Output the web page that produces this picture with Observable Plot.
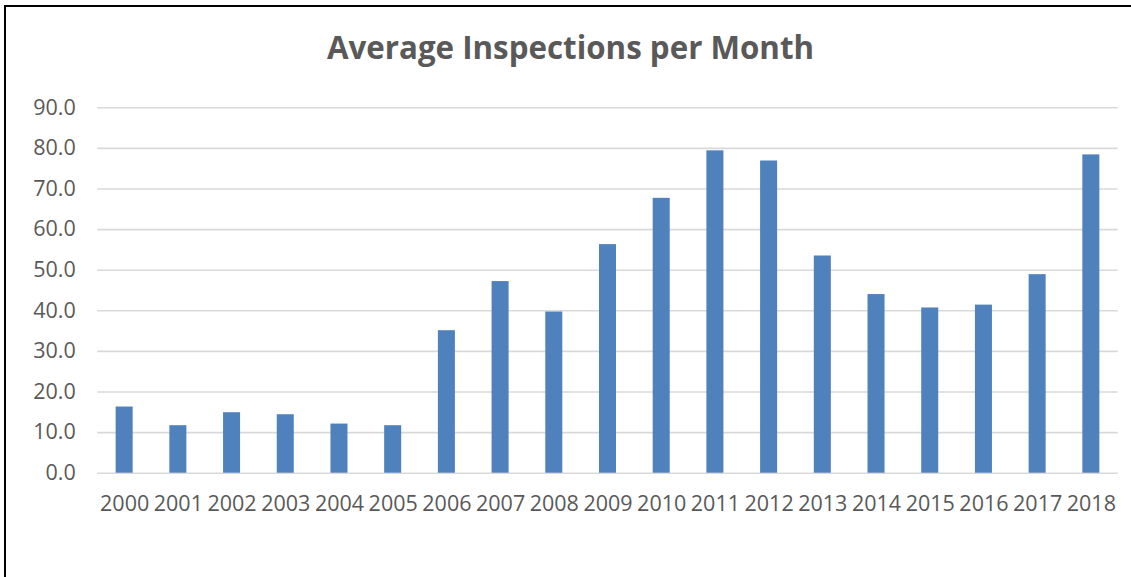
<!DOCTYPE html>
<html><head><meta charset="utf-8">
<script src="https://cdn.jsdelivr.net/npm/d3@7"></script>
<script src="https://cdn.jsdelivr.net/npm/@observablehq/plot@0.6"></script>
<style>
body{margin:0;background:#fff;}
#wrap{position:relative;width:1131px;height:577px;overflow:hidden;background:#fff;font-family:"Open Sans",sans-serif;}
#bl{position:absolute;left:4px;top:5px;width:2px;height:600px;background:#000;}
#bt{position:absolute;left:4px;top:5px;width:1200px;height:2px;background:#000;}
#title{position:absolute;left:5px;width:1131px;top:32px;line-height:31px;text-align:center;font-weight:bold;font-size:31.3px;color:#595959;white-space:nowrap;}
#chart{position:absolute;left:0;top:90px;}
</style>
</head><body>
<div id="wrap">
  <div id="bl"></div><div id="bt"></div>
  <div id="title">Average Inspections per Month</div>
  <div id="chart"></div>
</div>
<script>
const years = ["2000","2001","2002","2003","2004","2005","2006","2007","2008","2009","2010","2011","2012","2013","2014","2015","2016","2017","2018"];
const inspections = [16.3, 11.7, 14.9, 14.4, 12.1, 11.7, 35.1, 47.2, 39.7, 56.3, 67.7, 79.4, 76.9, 53.5, 44.0, 40.7, 41.4, 48.9, 78.4];
const yTicks = [0, 10, 20, 30, 40, 50, 60, 70, 80, 90];

const data = years.map((y, i) => ({year: y, value: inspections[i]}));

const chart = Plot.plot({
  width: 1131,
  height: 487,
  marginTop: 17.3,
  marginBottom: 104.3,
  marginLeft: 97.3,
  marginRight: 13.3,
  style: {fontFamily: "'Open Sans', sans-serif", fontSize: "21.5px", color: "#595959", background: "transparent"},
  x: {domain: years, paddingInner: 0.683, paddingOuter: 0.3415, round: false, label: null},
  y: {domain: [0, 90], label: null},
  marks: [
    Plot.gridY(yTicks, {stroke: "#d9d9d9", strokeOpacity: 1, strokeWidth: 1.6}),
    Plot.barY(data, {x: "year", y: "value", fill: "#4f81bd"}),
    Plot.axisY(yTicks, {tickSize: 0, tickPadding: 22, tickFormat: d3.format(".1f"), fill: "#595959", label: null}),
    Plot.axisX({tickSize: 0, tickPadding: 23, fill: "#595959", label: null})
  ]
});
document.getElementById("chart").appendChild(chart);
</script>
</body></html>
